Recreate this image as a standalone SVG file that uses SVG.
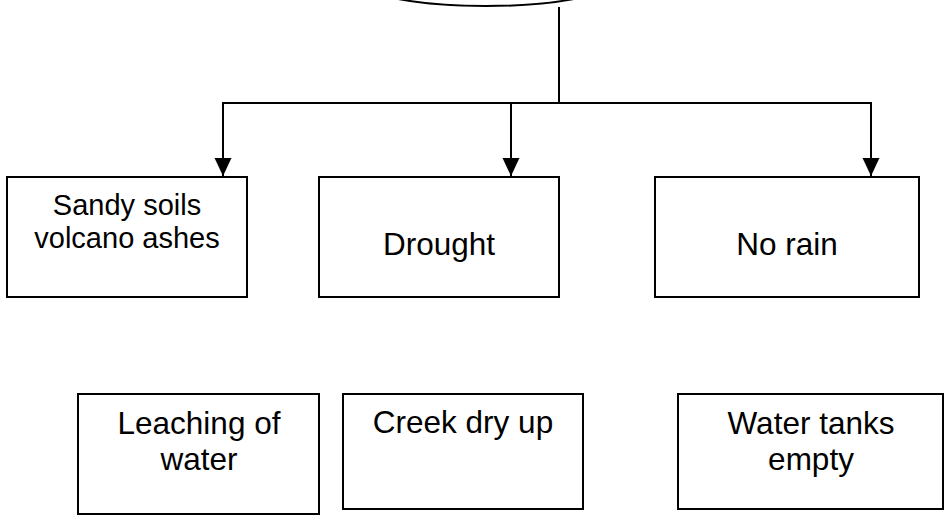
<svg xmlns="http://www.w3.org/2000/svg" width="948" height="518" viewBox="0 0 948 518">
  <style>
    .box { fill: #ffffff; stroke: #000000; stroke-width: 2; }
    .wire { fill: none; stroke: #000000; stroke-width: 2; }
    .lbl { font-family: "Liberation Sans", Arial, sans-serif; fill: #000000; text-anchor: middle; }
    .s29 { font-size: 29px; }
    .s32 { font-size: 31.5px; }
  </style>
  <defs>
    <marker id="arrow" markerUnits="userSpaceOnUse" markerWidth="18" markerHeight="18" viewBox="0 0 17 16" refX="17" refY="8" orient="auto">
      <path d="M0,0 L17,8 L0,16 Z" fill="#000000"/>
    </marker>
  </defs>

  <rect width="948" height="518" fill="#ffffff"/>

  <!-- top oval (cut off by the page edge) -->
  <g id="top-oval">
    <ellipse cx="486" cy="-16" rx="120" ry="22" class="box"/>
  </g>

  <!-- connectors -->
  <g id="connectors">
    <path class="wire" d="M559,7 V103"/>
    <path class="wire" d="M222,103 H872"/>
    <path class="wire" d="M223,103 V176" marker-end="url(#arrow)"/>
    <path class="wire" d="M511,103 V176" marker-end="url(#arrow)"/>
    <path class="wire" d="M871,103 V176" marker-end="url(#arrow)"/>
  </g>

  <g id="sandy-soils">
    <rect x="7" y="177" width="240" height="120" class="box"/>
    <text class="lbl s29" x="127" y="215">Sandy soils</text>
    <text class="lbl s29" x="127" y="248">volcano ashes</text>
  </g>

  <g id="drought">
    <rect x="319" y="177" width="240" height="120" class="box"/>
    <text class="lbl s32" x="439" y="255">Drought</text>
  </g>

  <g id="no-rain">
    <rect x="655" y="177" width="264" height="120" class="box"/>
    <text class="lbl s32" x="787" y="255">No rain</text>
  </g>

  <g id="leaching">
    <rect x="78" y="394" width="241" height="120" class="box"/>
    <text class="lbl s32" x="199" y="434">Leaching of</text>
    <text class="lbl s32" x="199" y="470">water</text>
  </g>

  <g id="creek">
    <rect x="343" y="394" width="240" height="115" class="box"/>
    <text class="lbl s32" x="463" y="433">Creek dry up</text>
  </g>

  <g id="water-tanks">
    <rect x="678" y="394" width="265" height="115" class="box"/>
    <text class="lbl s32" x="811" y="434">Water tanks</text>
    <text class="lbl s32" x="811" y="470">empty</text>
  </g>
</svg>
